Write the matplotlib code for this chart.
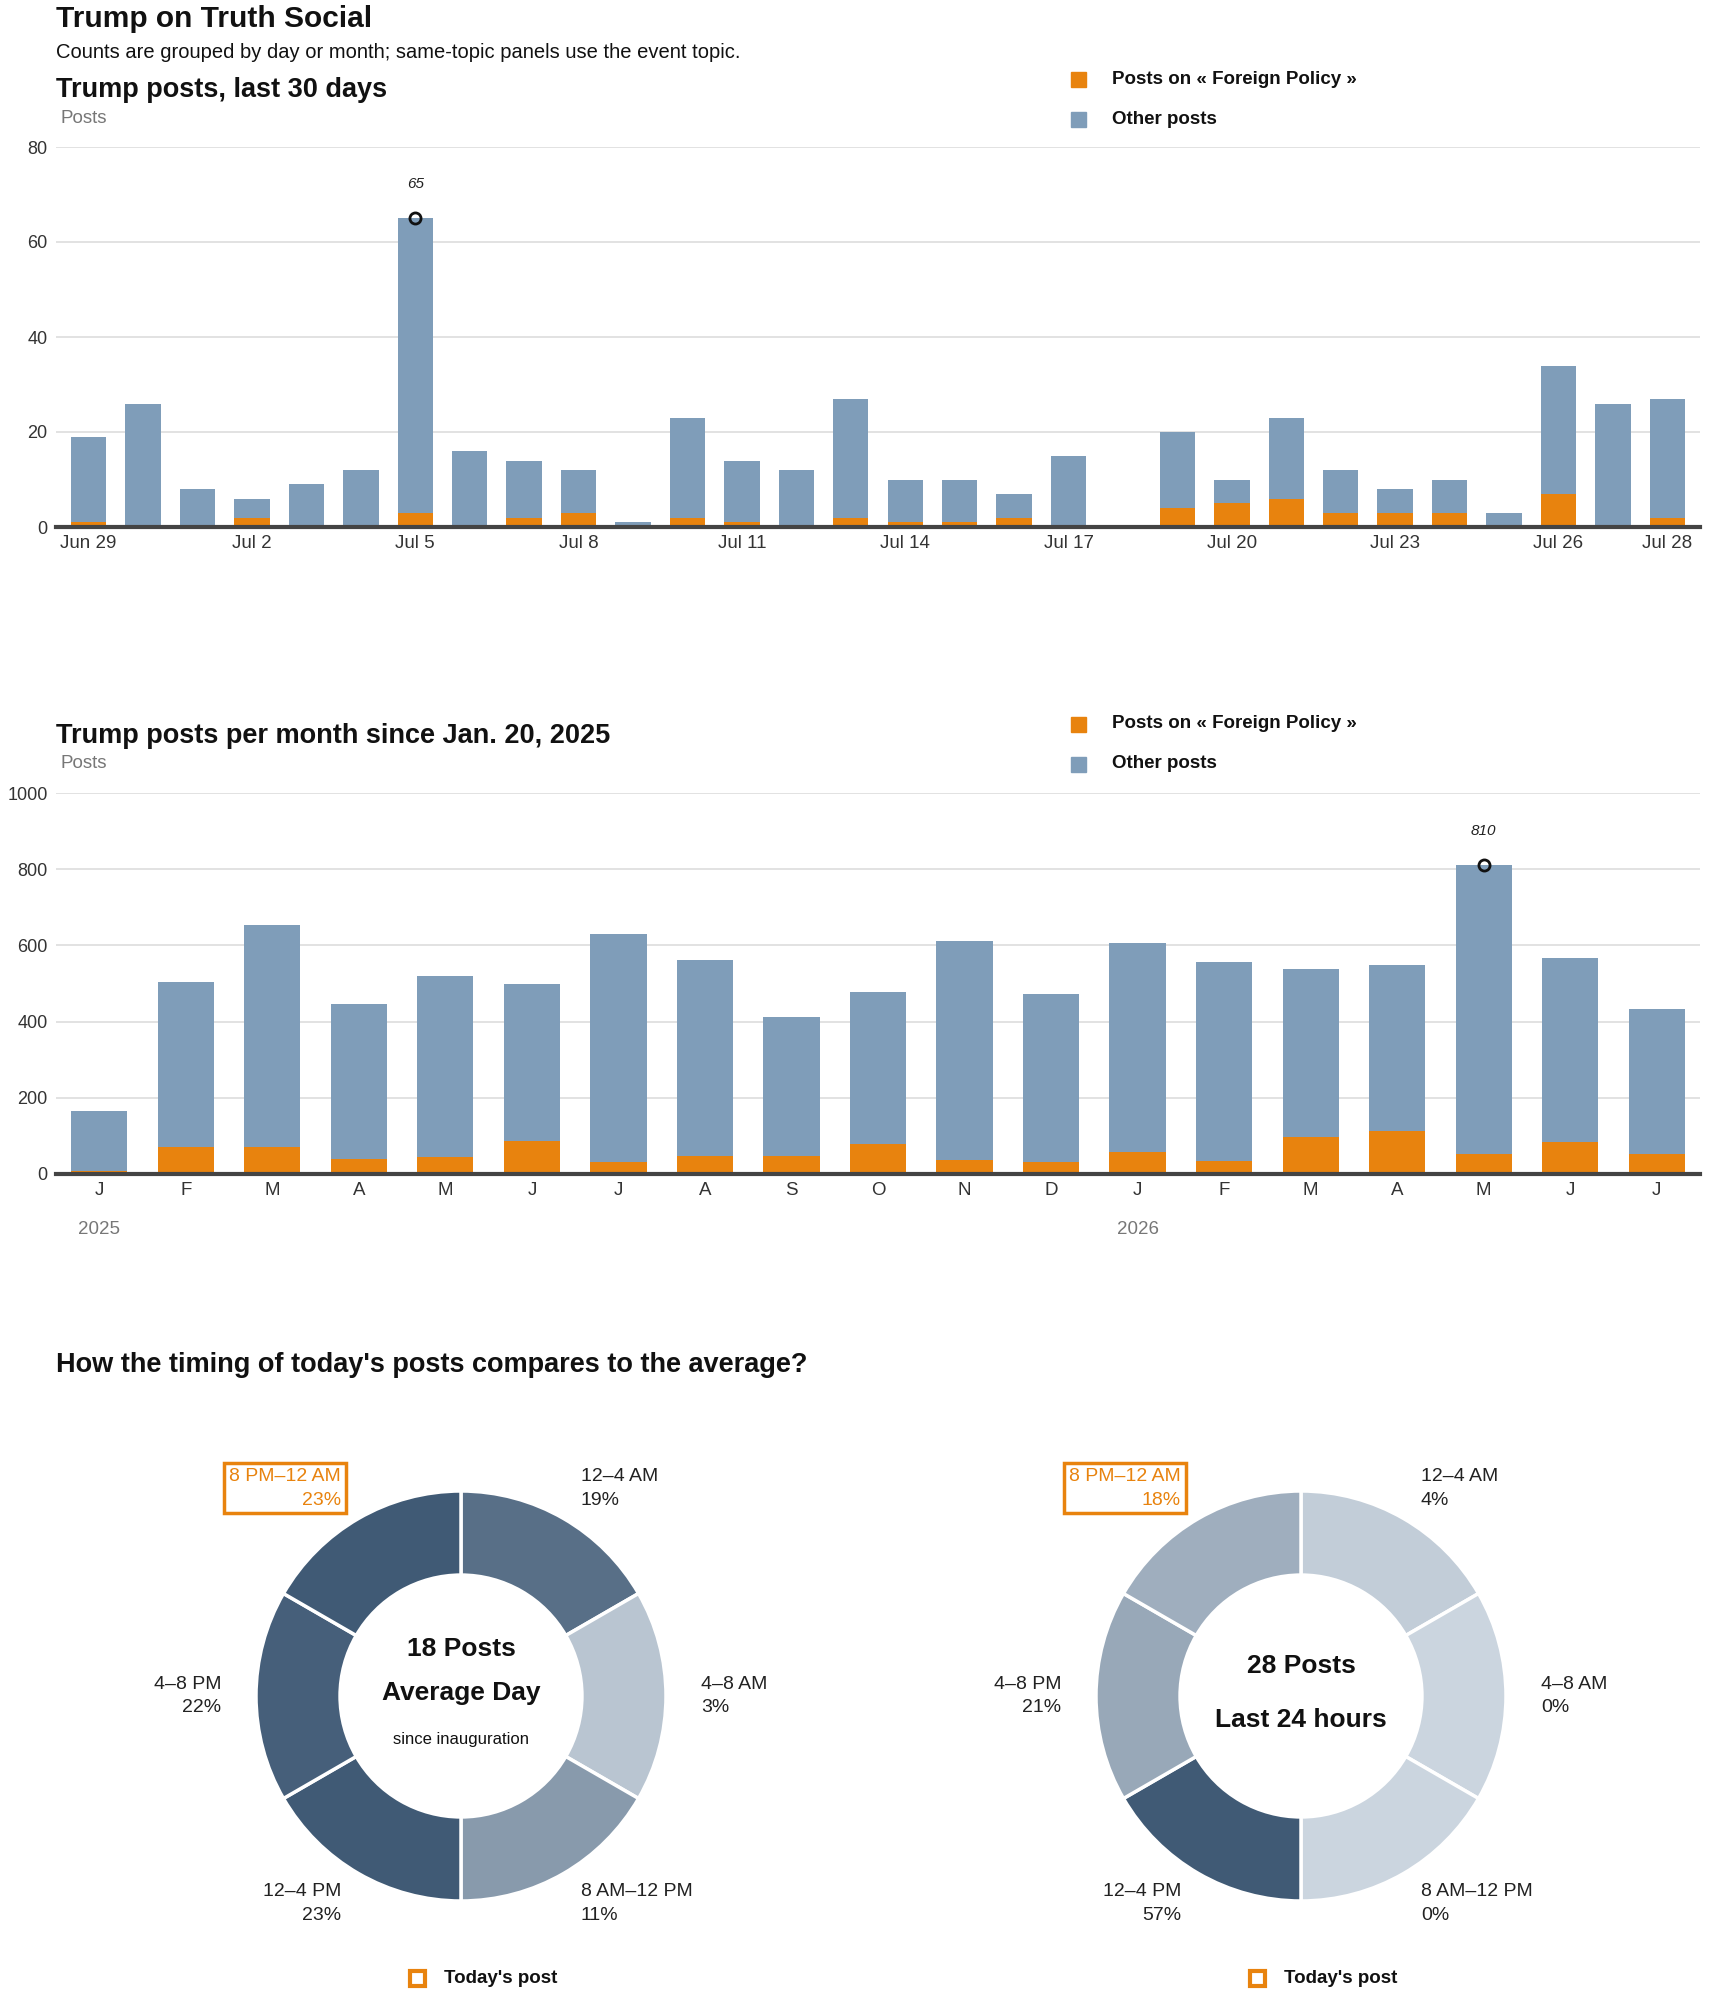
import numpy as np
import matplotlib
matplotlib.use('Agg')
import matplotlib.pyplot as plt
from matplotlib.patches import Rectangle
from matplotlib.colors import LinearSegmentedColormap

plt.rcParams['font.family'] = ['Liberation Sans Narrow', 'Liberation Sans', 'DejaVu Sans']

# --- data -------------------------------------------------------------
day_labels = ['Jun 29', 'Jun 30', 'Jul 1', 'Jul 2', 'Jul 3', 'Jul 4', 'Jul 5', 'Jul 6',
              'Jul 7', 'Jul 8', 'Jul 9', 'Jul 10', 'Jul 11', 'Jul 12', 'Jul 13', 'Jul 14',
              'Jul 15', 'Jul 16', 'Jul 17', 'Jul 18', 'Jul 19', 'Jul 20', 'Jul 21', 'Jul 22',
              'Jul 23', 'Jul 24', 'Jul 25', 'Jul 26', 'Jul 27', 'Jul 28']
daily_total = [19, 26, 8, 6, 9, 12, 65, 16, 14, 12, 1, 23, 14, 12, 27,
               10, 10, 7, 15, 0, 20, 10, 23, 12, 8, 10, 3, 34, 26, 27]
daily_fp = [1, 0, 0, 2, 0, 0, 3, 0, 2, 3, 0, 2, 1, 0, 2,
            1, 1, 2, 0, 0, 4, 5, 6, 3, 3, 3, 0, 7, 0, 2]

month_labels = ['J', 'F', 'M', 'A', 'M', 'J', 'J', 'A', 'S', 'O', 'N', 'D',
                'J', 'F', 'M', 'A', 'M', 'J', 'J']
month_years = {0: '2025', 12: '2026'}
monthly_total = [166, 504, 654, 447, 520, 500, 631, 562, 412, 478, 612, 473,
                 607, 557, 539, 549, 810, 568, 434]
monthly_fp = [8, 70, 70, 40, 44, 87, 32, 46, 46, 80, 38, 31,
              59, 33, 97, 113, 53, 83, 53]

slots = ['12–4 AM', '4–8 AM', '8 AM–12 PM', '12–4 PM', '4–8 PM', '8 PM–12 AM']
avg_pct = [19, 3, 11, 23, 22, 23]
today_pct = [4, 0, 0, 57, 21, 18]
today_slot = '8 PM–12 AM'

# --- style ------------------------------------------------------------
ORANGE = '#e8830e'
BLUE = '#7f9db9'
W, H = 1710, 1993
fig = plt.figure(figsize=(W / 100, H / 100), dpi=100)
fig.patch.set_facecolor('white')


def fx(x):
    return x / W


def fy(y):
    return 1 - y / H


def box(l, t, r, b):
    return [fx(l), fy(b), (r - l) / W, (b - t) / H]


def ftext(x, y, s, **kw):
    kw.setdefault('va', 'baseline')
    fig.text(fx(x), fy(y), s, **kw)


def legend_block(x, y1, y2):
    for yy, c, lab in [(y1, ORANGE, 'Posts on « Foreign Policy »'), (y2, BLUE, 'Other posts')]:
        fig.add_artist(Rectangle((fx(x), fy(yy + 8)), 15 / W, 15 / H, color=c,
                                 transform=fig.transFigure))
        fig.text(fx(x + 41), fy(yy), lab, fontsize=13.5, fontweight='bold',
                 color='#111', va='center')


def bar_panel(ax, labels, total, fp, ymax, step):
    total = np.array(total)
    fp = np.array(fp)
    x = np.arange(len(total))
    ax.bar(x, fp, width=0.65, color=ORANGE, zorder=3)
    ax.bar(x, total - fp, bottom=fp, width=0.65, color=BLUE, zorder=3)
    ax.set_ylim(0, ymax)
    ax.set_yticks(np.arange(0, ymax + 1, step))
    ax.grid(axis='y', color='#dddddd', lw=1.2, zorder=0)
    for s in ['top', 'right', 'left']:
        ax.spines[s].set_visible(False)
    ax.spines['bottom'].set_color('#444444')
    ax.spines['bottom'].set_linewidth(3)
    ax.spines['bottom'].set_zorder(5)
    ax.tick_params(axis='y', length=0, pad=6, labelsize=13, labelcolor='#333')
    ax.tick_params(axis='x', length=0, pad=6, labelsize=13.5, labelcolor='#333')
    # peak marker
    i = int(np.argmax(total))
    ax.plot(i, total[i], 'o', ms=8, mfc='none', mec='#111', mew=2, zorder=6)
    ax.annotate(str(total[i]), (i, total[i]), xytext=(0, 25), textcoords='offset points',
                ha='center', va='center', fontsize=11, fontstyle='italic', color='#222')
    return x


# --- header -----------------------------------------------------------
ftext(56, 27, 'Trump on Truth Social', fontsize=21.5, fontweight='bold', color='#111')
ftext(56, 58, 'Counts are grouped by day or month; same-topic panels use the event topic.',
      fontsize=14.5, color='#111')

# --- panel 1: last 30 days --------------------------------------------
ftext(56, 97, 'Trump posts, last 30 days', fontsize=19.5, fontweight='bold', color='#111')
ftext(60, 123, 'Posts', fontsize=13.5, color='#777')
legend_block(1071, 79, 119)
ax1 = fig.add_axes(box(56, 147, 1700, 527))
x1 = bar_panel(ax1, day_labels, daily_total, daily_fp, 80, 20)
ax1.set_xlim(-0.6, len(day_labels) - 0.4)
ticks1 = list(range(0, len(day_labels), 3)) + [len(day_labels) - 1]
ax1.set_xticks(ticks1)
ax1.set_xticklabels([day_labels[i] for i in ticks1])

# --- panel 2: monthly -------------------------------------------------
ftext(56, 743, 'Trump posts per month since Jan. 20, 2025', fontsize=19.5,
      fontweight='bold', color='#111')
ftext(60, 768, 'Posts', fontsize=13.5, color='#777')
legend_block(1071, 724, 764)
ax2 = fig.add_axes(box(56, 793, 1700, 1174))
x2 = bar_panel(ax2, month_labels, monthly_total, monthly_fp, 1000, 200)
ax2.set_xlim(-0.5, len(month_labels) - 0.5)
ax2.set_xticks(x2)
ax2.set_xticklabels(month_labels)
for i, yr in month_years.items():
    ax2.annotate(yr, (i, 0), xytext=(0, -40), textcoords='offset points',
                 ha='center', va='center', fontsize=13.5, color='#777')

# --- panel 3: donuts --------------------------------------------------
ftext(56, 1372, "How the timing of today's posts compares to the average?",
      fontsize=19.5, fontweight='bold', color='#111')

cmap = LinearSegmentedColormap.from_list('slate', ['#cbd5df', '#405a75'])
R = 205
LIM = 1.45


def donut(cx, cy, pct, center_lines):
    half = R * LIM
    ax = fig.add_axes(box(cx - half, cy - half, cx + half, cy + half))
    pmax = max(pct)
    cols = [cmap(p / pmax) for p in pct]
    wedges, _ = ax.pie([1] * len(pct), startangle=90, counterclock=False, colors=cols,
                       radius=1, wedgeprops=dict(width=0.41, edgecolor='white', linewidth=2.5))
    ax.set_xlim(-LIM, LIM)
    ax.set_ylim(-LIM, LIM)
    ax.set_aspect('equal')
    ax.axis('off')
    for w, lab, p in zip(wedges, slots, pct):
        ang = np.deg2rad((w.theta1 + w.theta2) / 2)
        tx, ty = 1.17 * np.cos(ang), 1.17 * np.sin(ang)
        ha = 'left' if np.cos(ang) > 0.01 else ('right' if np.cos(ang) < -0.01 else 'center')
        kw = dict(ha=ha, va='center', fontsize=14, color='#222', linespacing=1.5)
        if lab == today_slot:
            kw['color'] = ORANGE
            kw['bbox'] = dict(boxstyle='square,pad=0.25', fc='none', ec=ORANGE, lw=2.5)
        ax.text(tx, ty, f'{lab}\n{p}%', **kw)
    for s, yb, size, wt in center_lines:
        ax.text(0, yb, s, ha='center', va='baseline', fontsize=size, fontweight=wt,
                color='#111')
    # today's post legend
    lx = cx - 51
    fig.add_artist(Rectangle((fx(lx), fy(1986)), 15 / W, 15 / H, fill=False, ec=ORANGE,
                             lw=3, transform=fig.transFigure))
    ftext(lx + 34, 1983, "Today's post", fontsize=13.5, fontweight='bold', color='#111')


donut(461, 1696, avg_pct, [('18 Posts', 0.195, 19, 'bold'),
                           ('Average Day', -0.02, 19, 'bold'),
                           ('since inauguration', -0.234, 12, 'normal')])
donut(1301, 1696, today_pct, [('28 Posts', 0.112, 19, 'bold'),
                              ('Last 24 hours', -0.151, 19, 'bold')])

fig.savefig('out.png', dpi=100, facecolor='white')
